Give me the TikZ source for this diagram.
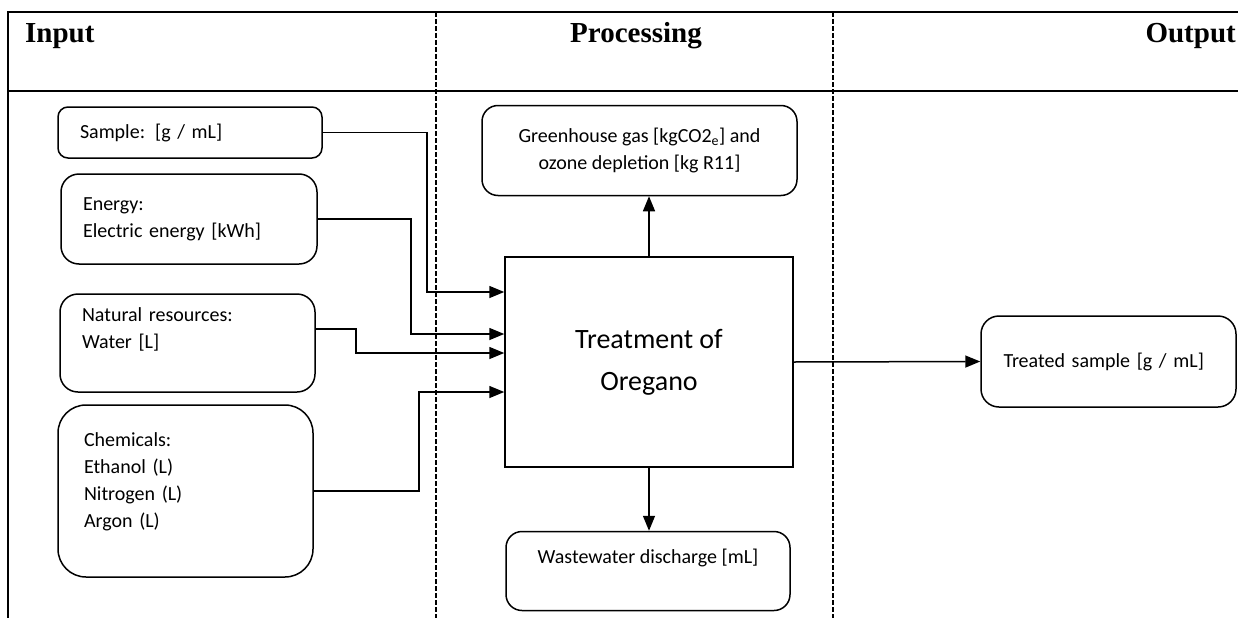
\documentclass[tikz,border=0pt]{standalone}
\usepackage{fontspec}
\setmainfont{Carlito}
\newfontfamily\headfont{Liberation Serif}
\usetikzlibrary{arrows.meta, positioning}
\tikzset{
    inbox/.style={rectangle, draw=black, line width=1.5pt, rounded corners=14pt, align=left, inner xsep=22pt, inner ysep=0pt, font=\fontsize{20}{27}\selectfont},
    outbox/.style={rectangle, draw=black, line width=1.5pt, rounded corners=16pt, align=center, inner sep=0pt, font=\fontsize{20}{27}\selectfont},
    proc/.style={rectangle, draw=black, line width=1.5pt, align=center, minimum width=288pt, minimum height=210pt, font=\fontsize{28}{42}\selectfont},
    arrow/.style={-{Triangle[length=15pt, width=12pt]}, line width=1.5pt},
    lane/.style={line width=1.2pt, dash pattern=on 5pt off 2pt},
    frame/.style={line width=2pt},
    head/.style={font=\fontsize{29}{29}\headfont\bfseries, inner sep=0pt}
}

\begin{document}
\begin{tikzpicture}[x=1pt, y=-1pt]
    \useasboundingbox (0,0) rectangle (1238,618);

    % --- FRAME AND LANES ---
    \draw[frame] (1238,12) -- (8,12) -- (8,618);
    \draw[frame] (8,91) -- (1238,91);
    \draw[lane] (436,12) -- (436,618);
    \draw[lane] (833,12) -- (833,618);

    \node[head, anchor=base west] (hIn) at (25,43) {Input};
    \node[head, anchor=base] (hProc) at (636,43) {Processing};
    \node[head, anchor=base east] (hOut) at (1236,43) {Output};

    % --- INPUTS ---
    \node[inbox, text width=220pt, minimum height=51pt, rounded corners=10pt] (sample) at (190,132.5) {Sample: [g / mL]};
    \node[inbox, text width=212pt, minimum height=90pt, rounded corners=18pt] (energy) at (189,219) {Energy:\\Electric energy [kWh]};
    \node[inbox, text width=211pt, minimum height=98pt, rounded corners=18pt] (natural) at (187.5,343) {Natural resources:\\Water [L]\\[-6pt]\strut};
    \node[inbox, text width=203pt, inner xsep=26pt, minimum height=172pt, rounded corners=28pt] (chem) at (185.5,491) {Chemicals:\\Ethanol (L)\\Nitrogen (L)\\Argon (L)\\[-14pt]\strut};

    % --- PROCESSING ---
    \node[proc] (treat) at (649,362) {Treatment of\\Oregano};
    \node[outbox, minimum width=315pt, minimum height=90pt, above=60pt of treat, xshift=-9.5pt] (ghg) {Greenhouse gas [kgCO2\textsubscript{e}] and\\ozone depletion [kg R11]};
    \node[outbox, minimum width=284pt, minimum height=79pt, below=63pt of treat, xshift=-1pt] (waste) {Wastewater discharge [mL]\\[-6pt]\strut};

    % --- OUTPUT ---
    \node[inbox, text width=210pt, inner xsep=22.5pt, minimum height=91pt, rounded corners=18pt] (treated) at (1108.5,361.5) {Treated sample [g / mL]};

    % Connectors
    \draw[arrow] (sample.east) -| (427,292) -- (treat.west |- 0,292);
    \draw[arrow] (energy.east) -| (411,334) -- (treat.west |- 0,334);
    \draw[arrow] ([yshift=14pt]natural.east) -| (356,353) -- (treat.west |- 0,353);
    \draw[arrow] (chem.east) -| (419,392) -- (treat.west |- 0,392);
    \draw[arrow] (treat.north) -- (treat.north |- ghg.south);
    \draw[arrow] (treat.south) -- (treat.south |- waste.north);
    \draw[arrow] (treat.east) -- (treated.west);

\end{tikzpicture}
\end{document}
